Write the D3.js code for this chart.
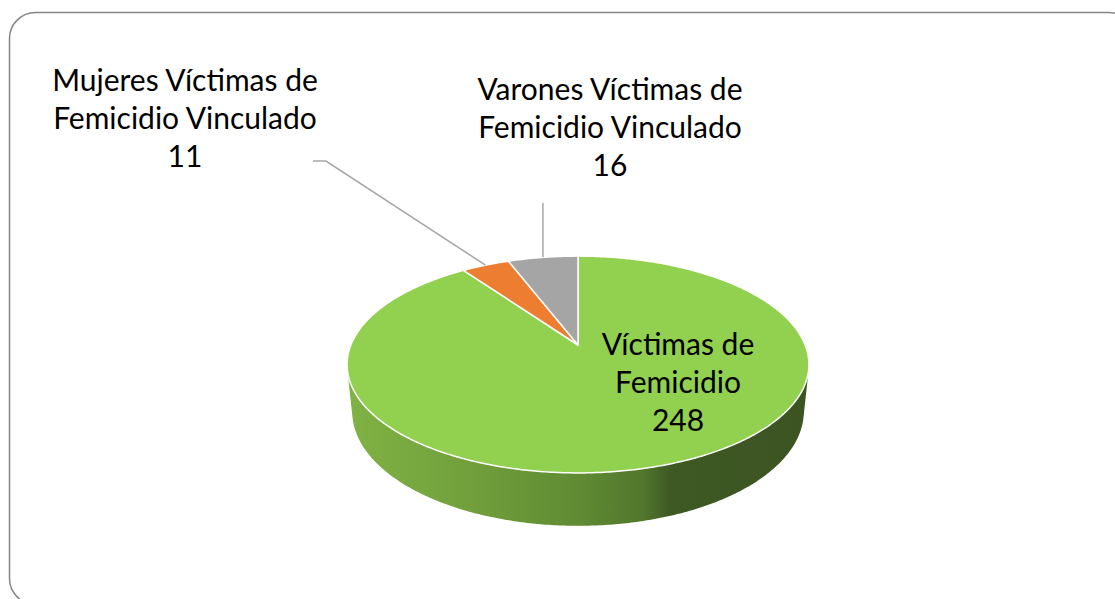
<!DOCTYPE html>
<html>
<head>
<meta charset="utf-8">
<script src="https://cdn.jsdelivr.net/npm/d3@7"></script>
<style>
  html, body { margin: 0; padding: 0; background: #fff; }
  svg { display: block; }
  text { font-family: Lato, "Noto Sans", sans-serif; fill: #000; }
</style>
</head>
<body>
<svg id="chart" width="1115" height="599"></svg>
<script>
// ---------- data ----------
const categories = ["Víctimas de Femicidio", "Mujeres Víctimas de Femicidio Vinculado", "Varones Víctimas de Femicidio Vinculado"];
const values = [248, 11, 16];
const labelLines = [["Víctimas de", "Femicidio"], ["Mujeres Víctimas de", "Femicidio Vinculado"], ["Varones Víctimas de", "Femicidio Vinculado"]];
const colors = ["#92d050", "#ed7d31", "#a5a5a5"];

// ---------- layout ----------
const W = 1115, H = 599;
const svg = d3.select("#chart");

// frame
svg.append("rect")
  .attr("x", 9.5).attr("y", 12.5)
  .attr("width", 1125).attr("height", 592)
  .attr("rx", 26).attr("ry", 26)
  .attr("fill", "#fff").attr("stroke", "#868686").attr("stroke-width", 1.5);

// 3D perspective projection of a unit-radius pie
const cx = 578, cy = 345;
const alpha = 27.5 * Math.PI / 180;
const Dist = 4.926;          // camera distance in radius units
const kScale = 1119;         // focal scale in px
const depth = 0.235;         // thickness in radius units

function proj(X, Y, Z) {
  const d = Dist - (Y * Math.sin(alpha) + Z * Math.cos(alpha));
  return [cx + kScale * X / d, cy - kScale * (Y * Math.cos(alpha) - Z * Math.sin(alpha)) / d];
}
// phi: clockwise angle from 12 o'clock (far side), same convention as d3.pie
function rim(phi, Y) { return proj(Math.sin(phi), Y, -Math.cos(phi)); }

const pie = d3.pie().sort(null).value(d => d)(values);

function arcPoints(a0, a1, Y) {
  const n = Math.max(2, Math.ceil(Math.abs(a1 - a0) / 0.01));
  return d3.range(n + 1).map(i => rim(a0 + (a1 - a0) * i / n, Y));
}
const line = d3.line();

// side (front visible part of the cylinder)
const tangentZ = 1 / (Dist * Math.cos(alpha));
const phiS = Math.acos(-tangentZ);             // ~103 deg
const sideTop = arcPoints(phiS, 2 * Math.PI - phiS, 0);
const sideBot = arcPoints(2 * Math.PI - phiS, phiS, -depth);

const defs = svg.append("defs");
const leftX = rim(-Math.PI / 2 - 0.2, 0)[0], rightX = rim(Math.PI / 2 + 0.2, 0)[0];
const grad = defs.append("linearGradient").attr("id", "sideGrad")
  .attr("gradientUnits", "userSpaceOnUse")
  .attr("x1", leftX).attr("y1", 0).attr("x2", rightX).attr("y2", 0);
[[0, "#80b244"], [0.25, "#72a13c"], [0.5, "#608b33"], [0.64, "#52772d"], [0.7, "#3e5924"], [1, "#3c5422"]]
  .forEach(([o, c]) => grad.append("stop").attr("offset", o).attr("stop-color", c));

svg.append("path")
  .attr("d", line(sideTop.concat(sideBot)) + "Z")
  .attr("fill", "url(#sideGrad)");

// top faces
const center = proj(0, 0, 0);
svg.append("g").selectAll("path")
  .data(pie)
  .join("path")
  .attr("d", d => line([center].concat(arcPoints(d.startAngle, d.endAngle, 0))) + "Z")
  .attr("fill", (d, i) => colors[i])
  .attr("stroke", "#fff")
  .attr("stroke-width", 1.5)
  .attr("stroke-linejoin", "round");

// ---------- labels ----------
const labelPos = [{ x: 678, y: 355 }, { x: 185, y: 91 }, { x: 610, y: 100 }];
const lineGap = 38;
const fontSize = 30;

labelLines.forEach((lines, i) => {
  const t = svg.append("text")
    .attr("text-anchor", "middle")
    .attr("font-size", fontSize)
    .attr("x", labelPos[i].x).attr("y", labelPos[i].y);
  lines.concat([String(values[i])]).forEach((s, j) => {
    t.append("tspan").attr("x", labelPos[i].x).attr("y", labelPos[i].y + j * lineGap).text(s);
  });
});

// leader lines
const midAngle = d => (d.startAngle + d.endAngle) / 2;
const pOrange = rim(midAngle(pie[1]), 0);
const pGray = rim(midAngle(pie[2]), 0);
svg.append("path")
  .attr("d", line([[313, 161], [326, 161], pOrange]))
  .attr("fill", "none").attr("stroke", "#a6a6a6").attr("stroke-width", 1.5);
svg.append("path")
  .attr("d", line([[pGray[0], 203], pGray]))
  .attr("fill", "none").attr("stroke", "#a6a6a6").attr("stroke-width", 1.5);
</script>
</body>
</html>
